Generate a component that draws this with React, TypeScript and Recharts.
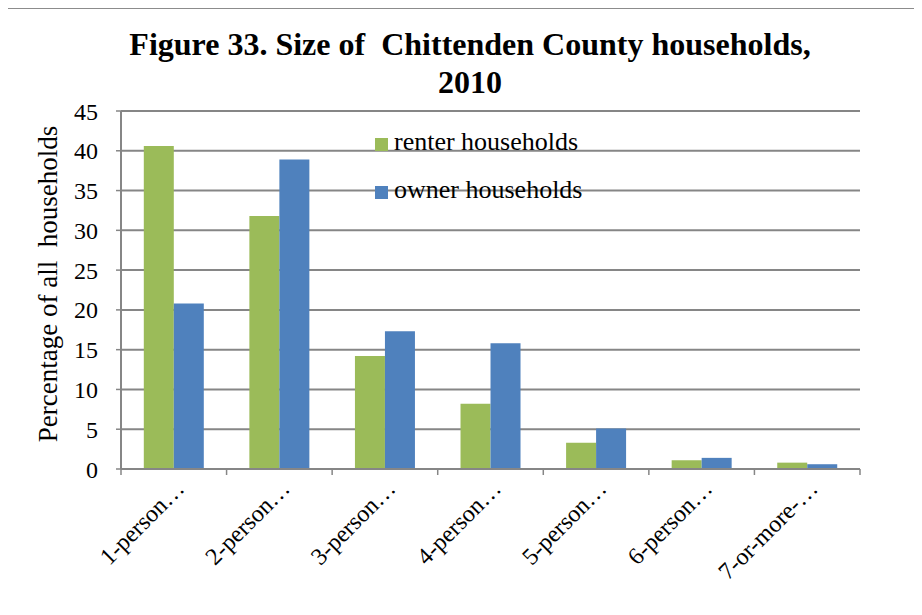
import React from "react";
import { BarChart, Bar, XAxis, YAxis, CartesianGrid } from "recharts";

const categories = [
  "1-person…",
  "2-person…",
  "3-person…",
  "4-person…",
  "5-person…",
  "6-person…",
  "7-or-more-…",
];
const renterValues = [40.6, 31.8, 14.2, 8.2, 3.3, 1.1, 0.8];
const ownerValues = [20.8, 38.9, 17.3, 15.8, 5.1, 1.4, 0.6];
const yTicks = [0, 5, 10, 15, 20, 25, 30, 35, 40, 45];
const seriesNames = ["renter households", "owner households"];

const data = categories.map((c, i) => ({
  name: c,
  renter: renterValues[i],
  owner: ownerValues[i],
}));

const FONT = "'Times New Roman', 'Liberation Serif', serif";
const GREEN = "#9BBB59";
const BLUE = "#4F81BD";
const GRID = "#868686";

const W = 922;
const H = 615;
const M = { top: 111, right: 62, bottom: 46, left: 61 };
const Y_W = 60;
const X_H = 100;
const PLOT_W = W - M.left - Y_W - M.right;
const BAND = PLOT_W / categories.length;

const XTick = (props: any) => {
  const { x, y, payload, index } = props;
  const ax = x + 12;
  const ay = y + 21;
  return (
    <g>
      <line x1={x - BAND / 2} y1={y} x2={x - BAND / 2} y2={y + 6} stroke={GRID} strokeWidth={1.5} />
      {index === categories.length - 1 && (
        <line x1={x + BAND / 2} y1={y} x2={x + BAND / 2} y2={y + 6} stroke={GRID} strokeWidth={1.5} />
      )}
      <text
        x={ax}
        y={ay}
        textAnchor="end"
        fontFamily={FONT}
        fontSize={24}
        fill="#000"
        transform={`rotate(-45, ${ax}, ${ay})`}
      >
        {payload.value}
      </text>
    </g>
  );
};

const LegendBox = () => (
  <div style={{ position: "absolute", left: 375, top: 118, fontFamily: FONT, fontSize: 26, color: "#000" }}>
    {seriesNames.map((n, i) => (
      <div key={n} style={{ display: "flex", alignItems: "center", height: 48 }}>
        <span
          style={{
            display: "inline-block",
            width: 13,
            height: 13,
            background: i === 0 ? GREEN : BLUE,
            marginRight: 6,
            marginTop: 4,
          }}
        />
        <span style={{ lineHeight: "26px" }}>{n}</span>
      </div>
    ))}
  </div>
);

export default function App() {
  return (
    <div style={{ position: "relative", width: W, height: H, margin: -8, overflow: "hidden", background: "#fff", fontFamily: FONT }}>
      <div
        style={{
          position: "absolute",
          left: 5,
          top: 7,
          width: 940,
          height: 700,
          border: "2px solid #8c8c8c",
          boxSizing: "border-box",
        }}
      />
      <div
        style={{
          position: "absolute",
          left: 0,
          top: 25,
          width: 940,
          textAlign: "center",
          fontFamily: FONT,
          fontWeight: "bold",
          fontSize: 32,
          lineHeight: "38px",
          whiteSpace: "pre",
          color: "#000",
        }}
      >
        {"Figure 33. Size of  Chittenden County households,\n2010"}
      </div>
      <div
        style={{
          position: "absolute",
          left: 48,
          top: 284,
          transform: "translate(-50%, -50%) rotate(-90deg)",
          fontFamily: FONT,
          fontSize: 27,
          whiteSpace: "pre",
          color: "#000",
        }}
      >
        {"Percentage of all  households"}
      </div>
      <div style={{ position: "absolute", left: 0, top: 0 }}>
        <BarChart width={W} height={H} data={data} margin={M} barCategoryGap="21.6%" barGap={0}>
          <CartesianGrid vertical={false} stroke={GRID} strokeWidth={2} />
          <XAxis
            dataKey="name"
            height={X_H}
            interval={0}
            tickLine={false}
            tickSize={0}
            tickMargin={0}
            axisLine={{ stroke: GRID, strokeWidth: 2 }}
            tick={<XTick />}
          />
          <YAxis
            width={Y_W}
            domain={[0, 45]}
            ticks={yTicks}
            interval={0}
            tickSize={5}
            tickMargin={18}
            axisLine={{ stroke: GRID, strokeWidth: 2 }}
            tickLine={{ stroke: GRID, strokeWidth: 1.5 }}
            tick={{ fontFamily: FONT, fontSize: 24, fill: "#000" }}
          />
          <Bar dataKey="renter" fill={GREEN} isAnimationActive={false} />
          <Bar dataKey="owner" fill={BLUE} isAnimationActive={false} />
        </BarChart>
      </div>
      <LegendBox />
    </div>
  );
}
